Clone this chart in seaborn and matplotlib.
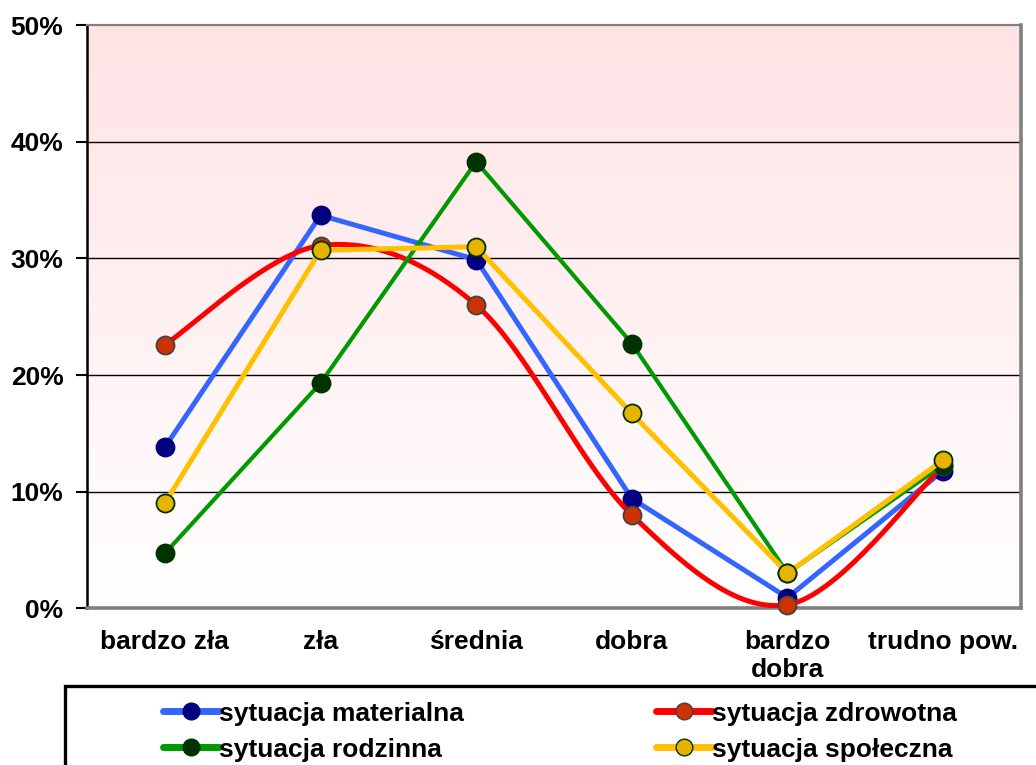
import numpy as np
import pandas as pd
import matplotlib.pyplot as plt
import seaborn as sns
from matplotlib.patches import Rectangle
from matplotlib.lines import Line2D

# data (in %)
categories = ["bardzo zła", "zła", "średnia", "dobra", "bardzo\ndobra", "trudno pow."]
materialna = [13.8, 33.7, 29.9, 9.4, 0.9, 11.8]
zdrowotna = [22.6, 31.1, 26.0, 8.0, 0.3, 12.2]
rodzinna = [4.7, 19.3, 38.3, 22.7, 3.0, 12.3]
spoleczna = [9.0, 30.7, 31.0, 16.7, 3.0, 12.7]
y_ticks = [0, 10, 20, 30, 40, 50]

sns.set_style("white")
plt.rcParams["font.family"] = ["Liberation Sans", "DejaVu Sans"]
plt.rcParams["font.weight"] = "bold"
plt.rcParams["text.color"] = "black"
plt.rcParams["xtick.color"] = "black"
plt.rcParams["ytick.color"] = "black"

fig = plt.figure(figsize=(10.36, 7.65), dpi=100)
ax = fig.add_axes([0.084, 0.205, 0.9015, 0.762])

# pink -> white gradient background
grad = np.linspace(0, 1, 256).reshape(-1, 1)
top = np.array([1.0, 0.89, 0.90])
img = top[None, None, :] * grad[:, :, None] + np.ones(3)[None, None, :] * (1 - grad[:, :, None])
ax.imshow(img, extent=[0, 1, 0, 1], transform=ax.transAxes, aspect="auto",
          origin="lower", zorder=0)

x = np.arange(len(categories))


def smooth(xs, ys, n=40):
    # Excel-style smoothed line (Catmull-Rom as cubic Bezier)
    p = np.column_stack([xs, ys]).astype(float)
    p = np.vstack([p[0], p, p[-1]])
    out = []
    for i in range(1, len(p) - 2):
        p0, p1, p2, p3 = p[i - 1], p[i], p[i + 1], p[i + 2]
        c1 = p1 + (p2 - p0) / 6
        c2 = p2 - (p3 - p1) / 6
        t = np.linspace(0, 1, n)[:, None]
        seg = (1 - t) ** 3 * p1 + 3 * (1 - t) ** 2 * t * c1 + 3 * (1 - t) * t ** 2 * c2 + t ** 3 * p2
        out.append(seg)
    out = np.vstack(out)
    return out[:, 0], out[:, 1]


series = [
    ("sytuacja materialna", materialna, "#3366FF", "#000080", "#000080", 3.6, False),
    ("sytuacja zdrowotna", zdrowotna, "#FF0000", "#CC3300", "#444444", 3.6, True),
    ("sytuacja rodzinna", rodzinna, "#009900", "#003300", "#003300", 3.0, False),
    ("sytuacja społeczna", spoleczna, "#FFC000", "#E6B400", "#003300", 3.6, False),
]

handles = {}
for i, (name, vals, lc, mfc, mec, lw, is_smooth) in enumerate(series):
    z = 3 + i
    if is_smooth:
        sx, sy = smooth(x, vals)
    else:
        sx, sy = x, np.array(vals)
    sns.lineplot(x=sx, y=sy, sort=False, color=lc, lw=lw, ax=ax, zorder=z,
                 estimator=None)
    ax.plot(x, vals, ls="none", marker="o", ms=13, mfc=mfc, mec=mec, mew=1.3,
            zorder=z, clip_on=False)
    handles[name] = Line2D([], [], color=lc, lw=5, marker="o", ms=12,
                           mfc=mfc, mec=mec, mew=1.0, solid_capstyle="round")

ax.set_xlim(-0.5, 5.5)
ax.set_ylim(0, 50)
ax.set_yticks(y_ticks)
ax.set_yticklabels([f"{v}%" for v in y_ticks])
ax.set_xticks(x)
ax.set_xticklabels(categories)
ax.set_xticks(np.arange(-0.5, 6.0, 1.0), minor=True)
ax.tick_params(axis="x", which="major", length=0, pad=16, labelsize=19)
ax.tick_params(axis="x", which="minor", length=6, width=1.5, color="black", direction="out")
ax.tick_params(axis="y", length=8, width=1.5, color="black", direction="out",
               pad=9, labelsize=19, left=True)
for lab in ax.get_xticklabels() + ax.get_yticklabels():
    lab.set_fontweight("bold")
    lab.set_color("black")
ax.set_xlabel("")
ax.set_ylabel("")

for v in y_ticks[1:-1]:
    ax.axhline(v, color="black", lw=1.0, zorder=1)

ax.spines["left"].set_color("black")
ax.spines["left"].set_linewidth(1.8)
ax.spines["bottom"].set_color("#808080")
ax.spines["bottom"].set_linewidth(2.6)
ax.spines["top"].set_color("#808080")
ax.spines["top"].set_linewidth(1.6)
ax.spines["right"].set_color("#808080")
ax.spines["right"].set_linewidth(2.6)
ax.grid(False)

# legend box running off the figure edge
fig.patches.append(Rectangle((0.063, -0.2), 1.0, 0.3035, transform=fig.transFigure,
                             fill=False, edgecolor="black", lw=2.4, zorder=1))
order = ["sytuacja materialna", "sytuacja rodzinna", "sytuacja zdrowotna", "sytuacja społeczna"]
fig.legend([handles[k] for k in order], order, ncol=2, frameon=False,
           loc="upper left", bbox_to_anchor=(0.145, 0.1),
           prop={"weight": "bold", "size": 19}, handlelength=2.1, handletextpad=0.0,
           columnspacing=7.3, labelspacing=0.45, borderpad=0)

fig.savefig("out.png", dpi=100)
